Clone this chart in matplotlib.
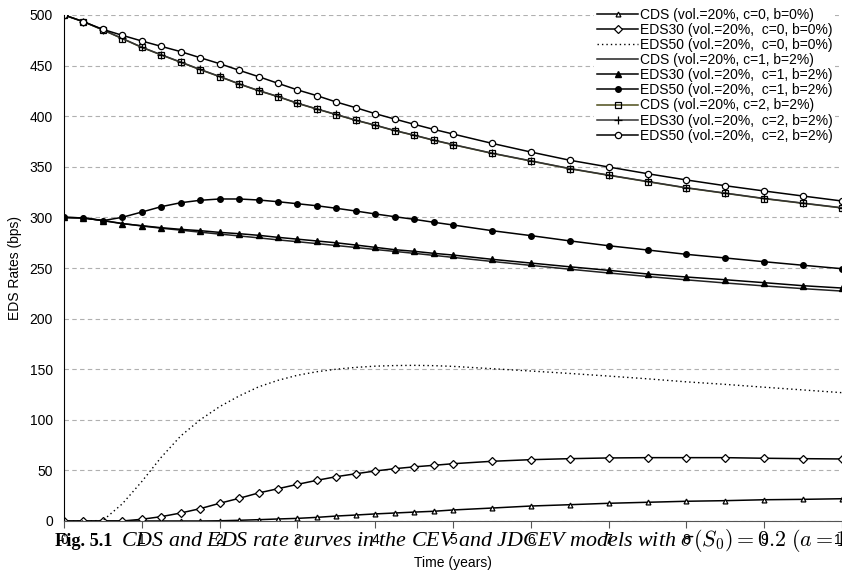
import matplotlib.pyplot as plt

plt.rcParams.update({"font.family": "Liberation Sans", "font.size": 10,
                     "mathtext.fontset": "cm"})

# time grid (years)
t = [0, 0.25, 0.5, 0.75, 1.0, 1.25, 1.5, 1.75, 2.0, 2.25, 2.5, 2.75, 3.0,
     3.25, 3.5, 3.75, 4.0, 4.25, 4.5, 4.75, 5.0, 5.5, 6.0, 6.5, 7.0, 7.5,
     8.0, 8.5, 9.0, 9.5, 10.0]

# c=0, b=0%
cds_c0 = [0, 0, 0, 0, 0, 0, 0, 0, 0.2, 0.7, 1.3, 2.0, 2.6, 3.6, 4.9, 5.9,
          7.0, 7.9, 8.8, 9.6, 10.9, 12.8, 14.8, 16.1, 17.5, 18.5, 19.5,
          20.1, 21.0, 21.4, 22.0]
eds30_c0 = [0, 0, 0, 0, 1.7, 4.3, 7.9, 12.2, 17.5, 22.4, 27.7, 31.9, 36.2,
            40.2, 43.8, 46.7, 49.4, 51.7, 53.5, 55.0, 56.6, 59.0, 60.6,
            61.6, 62.3, 62.6, 62.6, 62.6, 62.0, 61.6, 61.3]
eds50_c0 = [0, 0, 0.5, 17, 39, 63, 84, 100, 113, 123.5, 132.5, 139, 144,
            147.5, 150, 151.8, 153, 153.6, 153.8, 153.5, 152.8, 150.5,
            148.2, 145.8, 143.2, 140.5, 137.5, 135, 132.2, 129.5, 126.8]

# c=1, b=2%
cds_c1 = [300, 299.4, 297, 294, 291.5, 289.3, 287.4, 285.4, 283.5, 281.7,
          279.8, 277.8, 276, 274.1, 272.2, 270.3, 268.3, 266.4, 264.5,
          262.5, 260.5, 256.5, 252.6, 248.8, 245.1, 241.6, 238.3, 235.2,
          232.3, 229.6, 227.2]
eds30_c1 = [300, 299.5, 296.8, 293.8, 291.8, 289.8, 288.2, 286.9, 285.2,
            283.9, 282.3, 280.3, 278.5, 276.7, 274.9, 272.7, 270.4, 268.1,
            266.5, 264.5, 262.8, 258.6, 254.9, 251.2, 247.7, 244.1, 241.1,
            238.4, 235.5, 232.5, 230.2]
eds50_c1 = [300, 299.5, 296.8, 300.1, 305.3, 310.6, 314.5, 316.9, 318.2,
            318.2, 317.2, 315.5, 313.5, 311.5, 309, 306.3, 303.4, 300.7,
            298.1, 295.2, 292.5, 286.9, 282, 276.8, 272, 267.8, 263.5,
            259.9, 256.2, 252.7, 249.3]

# c=2, b=2%
cds_c2 = [500, 493.4, 485.2, 476.6, 468, 460.5, 453.3, 446, 439.1, 431.8,
          425.2, 419.3, 412.7, 407, 401.5, 395.9, 391, 385.7, 381.1, 376.2,
          371.8, 363.3, 355.7, 348.1, 341.6, 335.3, 329.1, 323.8, 318.5,
          313.9, 309.3]
eds30_c2 = [500, 493.4, 485.3, 476.8, 468.2, 460.7, 453.5, 446.2, 439.3,
            432.0, 425.4, 419.5, 412.9, 407.2, 401.7, 396.1, 391.2, 385.9,
            381.3, 376.4, 372.0, 363.5, 355.9, 348.3, 341.8, 335.5, 329.3,
            324.0, 318.7, 314.1, 309.5]
eds50_c2 = [500, 493.4, 485.8, 479.9, 474.3, 469, 463.8, 457.8, 451.9,
            445.4, 439.1, 432.5, 426, 420.3, 414, 408.4, 402.5, 397.2, 392,
            387, 382.4, 373.2, 364.6, 356.5, 349.8, 343.2, 337, 331.3, 326.1,
            321.1, 316.2]

fig = plt.figure(figsize=(8.42, 5.74), dpi=100)
ax = fig.add_axes([64 / 842, 1 - 521 / 574, 778 / 842, 506 / 574])

lw = 1.1
ax.plot(t, cds_c0, color="black", lw=lw, marker="^", ms=3.5, mfc="white",
        mew=0.9, label="CDS (vol.=20%, c=0, b=0%)")
ax.plot(t, eds30_c0, color="black", lw=lw, marker="D", ms=4, mfc="white",
        mew=0.9, label="EDS30 (vol.=20%,  c=0, b=0%)")
ax.plot(t, eds50_c0, color="black", lw=1.0, ls=(0, (1, 2.2)),
        label="EDS50 (vol.=20%,  c=0, b=0%)")
ax.plot(t, cds_c1, color="#222222", lw=lw, label="CDS (vol.=20%, c=1, b=2%)")
ax.plot(t, eds30_c1, color="black", lw=lw, marker="^", ms=4.5,
        label="EDS30 (vol.=20%,  c=1, b=2%)")
ax.plot(t, eds50_c1, color="black", lw=lw, marker="o", ms=4,
        label="EDS50 (vol.=20%,  c=1, b=2%)")
ax.plot(t, cds_c2, color="#4d4d1a", lw=lw, marker="s", ms=5, mfc="none",
        mec="black", mew=0.9, label="CDS (vol.=20%, c=2, b=2%)")
ax.plot(t, eds30_c2, color="#333333", lw=lw, marker="+", ms=5.5, mec="black",
        mew=0.9, label="EDS30 (vol.=20%,  c=2, b=2%)")
ax.plot(t, eds50_c2, color="black", lw=lw, marker="o", ms=4.5, mfc="white",
        mew=0.9, label="EDS50 (vol.=20%,  c=2, b=2%)")

ax.set_xlim(0, 10)
ax.set_ylim(0, 500)
ax.set_xticks(range(0, 11))
ax.set_yticks(range(0, 501, 50))
ax.grid(True, axis="y", color="#b0b0b0", linestyle=(0, (4, 3)), lw=0.8)
ax.set_axisbelow(True)
for side in ["top", "right"]:
    ax.spines[side].set_visible(False)
ax.spines["left"].set_color("black")
ax.spines["bottom"].set_color("#555555")
ax.tick_params(axis="y", length=0, pad=8)
ax.tick_params(axis="x", length=5, direction="out", color="#555555", pad=4)

ax.set_ylabel("EDS Rates (bps)")
ax.yaxis.set_label_coords(-0.054, 0.5)
ax.set_xlabel("Time (years)")
ax.xaxis.set_label_coords(0.5, -0.07)

leg = ax.legend(loc="upper left", bbox_to_anchor=(594 / 842, 1 - 5 / 574),
                bbox_transform=fig.transFigure, fontsize=10, frameon=True,
                handlelength=3.0, handletextpad=0.1, labelspacing=0.08,
                borderpad=0.2, borderaxespad=0)
leg.get_frame().set_edgecolor("none")
leg.get_frame().set_facecolor("white")
leg.get_frame().set_alpha(1)

# figure caption overlaid at bottom (as in the source)
fig.text(55 / 842, 1 - 541 / 574, "Fig. 5.1", family="Liberation Serif",
         weight="bold", fontsize=13.2, va="center")
fig.text(121 / 842, 1 - 541 / 574,
         r"CDS and EDS rate curves in the CEV and JDCEV models with "
         r"$\sigma(S_0) = 0.2$ $(a = 10,$",
         family="Liberation Serif", style="italic", fontsize=15.8,
         va="center")

fig.savefig("out.png", dpi=100)
